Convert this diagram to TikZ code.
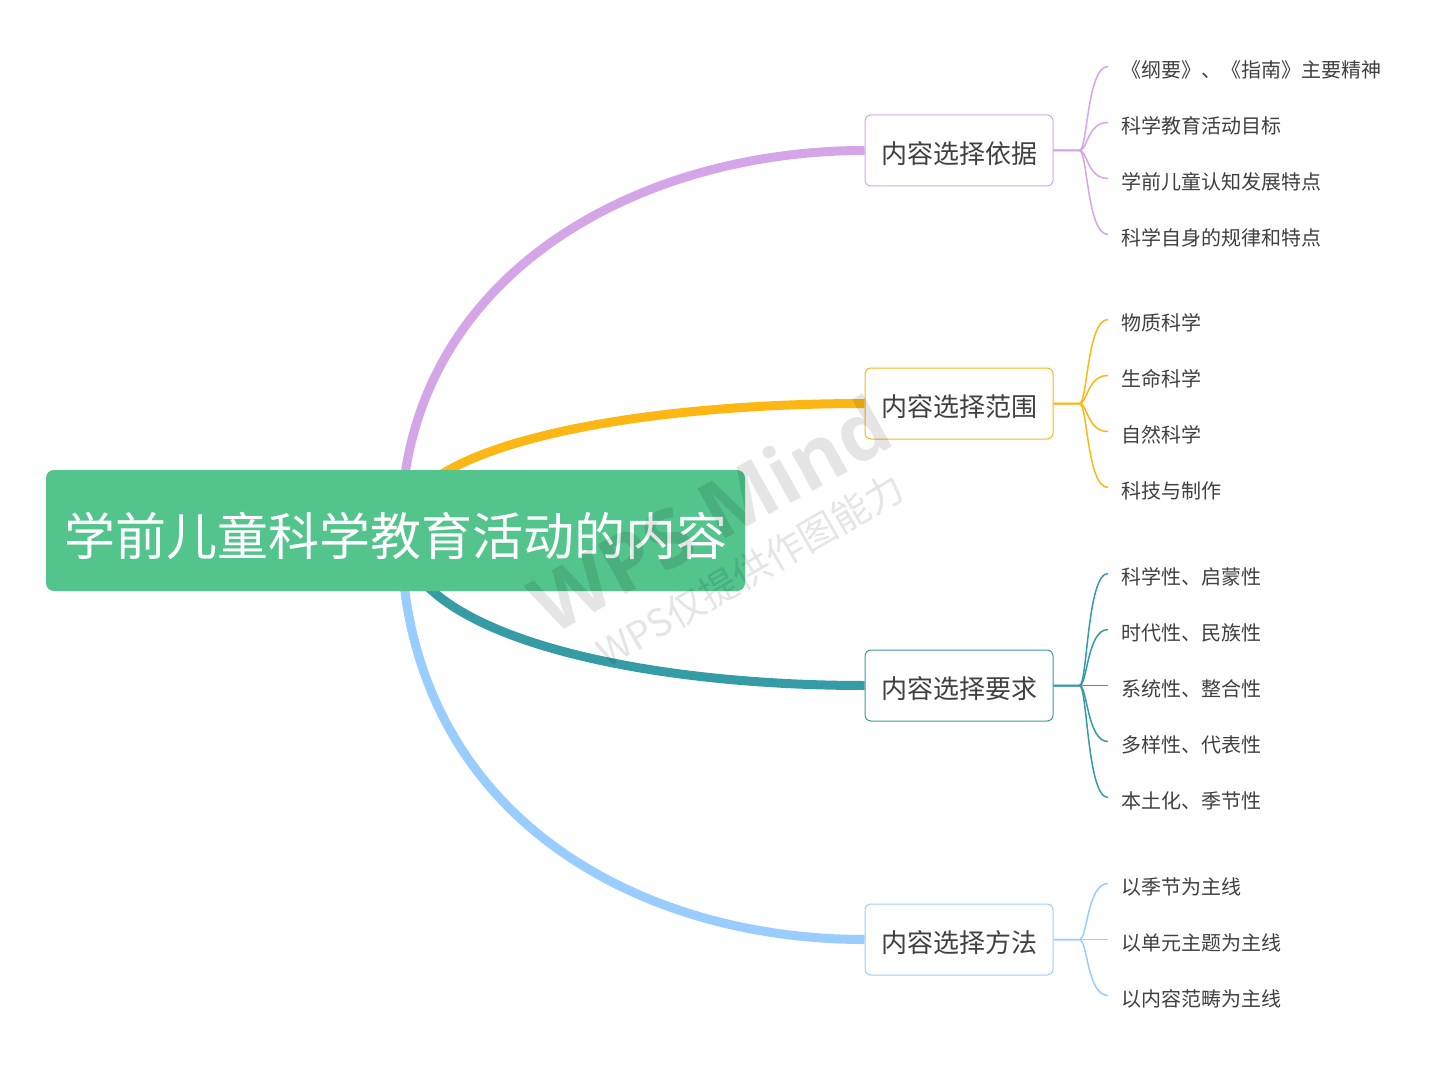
\documentclass[tikz,border=0pt]{standalone}
\usepackage{fontspec}
\setmainfont{Noto Sans CJK SC}
\newfontfamily\wmfont{Open Sans}
\usetikzlibrary{calc,backgrounds}
\definecolor{cgreen}{HTML}{52C48C}
\definecolor{cpurple}{HTML}{D4A6E8}
\definecolor{corange}{HTML}{FDB715}
\definecolor{cteal}{HTML}{359CA6}
\definecolor{cblue}{HTML}{9ACDFF}
\definecolor{ctext}{HTML}{404040}
\newcommand\lowertxt[2]{\raisebox{-#1pt}[\height][\depth]{#2}}
\tikzset{
  rootbox/.style={fill=cgreen, rounded corners=8pt, minimum width=699pt, minimum height=121pt,
    inner sep=0pt, text=white, font=\fontsize{51}{51}\selectfont},
  branchbox/.style={draw=#1, line width=1pt, fill=white, rounded corners=6pt,
    minimum width=188pt, minimum height=71pt, inner sep=0pt, text=ctext,
    font=\fontsize{26}{26}\selectfont},
  leaf/.style={anchor=west, inner xsep=13pt, inner ysep=0pt, text=ctext,
    font=\fontsize{20}{20}\selectfont},
  trunk/.style={draw=#1, line width=9pt},
  twig/.style={draw=#1, line width=1.5pt},
  wmark/.style={text=black, opacity=0.1, rotate=29}
}
\begin{document}
\begin{tikzpicture}[x=1pt,y=-1pt]
\useasboundingbox (0,0) rectangle (1448,1067);

\node[rootbox] (root) at (395.5,530.5) {\lowertxt{5}{学前儿童科学教育活动的内容}};
\coordinate (rc) at (401,530);

\node[branchbox=cpurple] (b1) at (959,150.5) {\lowertxt{3}{内容选择依据}};
\node[branchbox=corange] (b2) at (959,403.5) {\lowertxt{3}{内容选择范围}};
\node[branchbox=cteal]   (b3) at (959,685.5) {\lowertxt{3}{内容选择要求}};
\node[branchbox=cblue]   (b4) at (959,939.5) {\lowertxt{3}{内容选择方法}};

\begin{scope}[on background layer]
\fill[white] (0,0) rectangle (1448,1067);
\draw[trunk=cpurple] (rc) .. controls ($(rc)+(0,-250)$) and ($(b1.west)+(-233,0)$) .. (b1.west);
\draw[trunk=corange] (rc) .. controls ($(rc)+(0,-84)$) and ($(b2.west)+(-233,0)$) .. (b2.west);
\draw[trunk=cteal]   (rc) .. controls ($(rc)+(0,103)$) and ($(b3.west)+(-233,0)$) .. (b3.west);
\draw[trunk=cblue]   (rc) .. controls ($(rc)+(0,280)$) and ($(b4.west)+(-233,0)$) .. (b4.west);
\end{scope}

% leaves
\node[leaf] (l11) at (1108,66.5) {\lowertxt{3}{《纲要》、《指南》主要精神}};
\node[leaf] (l12) at (1108,122.5) {\lowertxt{3}{科学教育活动目标}};
\node[leaf] (l13) at (1108,178.5) {\lowertxt{3}{学前儿童认知发展特点}};
\node[leaf] (l14) at (1108,234.5) {\lowertxt{3}{科学自身的规律和特点}};

\node[leaf] (l21) at (1108,319.5) {\lowertxt{3}{物质科学}};
\node[leaf] (l22) at (1108,375.5) {\lowertxt{3}{生命科学}};
\node[leaf] (l23) at (1108,431.5) {\lowertxt{3}{自然科学}};
\node[leaf] (l24) at (1108,487.5) {\lowertxt{3}{科技与制作}};

\node[leaf] (l31) at (1108,573.5) {\lowertxt{3}{科学性、启蒙性}};
\node[leaf] (l32) at (1108,629.5) {\lowertxt{3}{时代性、民族性}};
\node[leaf] (l33) at (1108,685.5) {\lowertxt{3}{系统性、整合性}};
\node[leaf] (l34) at (1108,741.5) {\lowertxt{3}{多样性、代表性}};
\node[leaf] (l35) at (1108,797.5) {\lowertxt{3}{本土化、季节性}};

\node[leaf] (l41) at (1108,883.5) {\lowertxt{3}{以季节为主线}};
\node[leaf] (l42) at (1108,939.5) {\lowertxt{3}{以单元主题为主线}};
\node[leaf] (l43) at (1108,995.5) {\lowertxt{3}{以内容范畴为主线}};

\coordinate (f1) at ($(b1.east)+(26,0)$);
\coordinate (f2) at ($(b2.east)+(26,0)$);
\coordinate (f3) at ($(b3.east)+(26,0)$);
\coordinate (f4) at ($(b4.east)+(26,0)$);

\foreach \l in {l11,l12,l13,l14}
  \draw[twig=cpurple] (b1.east) -- (f1) .. controls ($(f1)+(8,0)$) and ($(\l.west)+(-21,0)$) .. (\l.west);
\foreach \l in {l21,l22,l23,l24}
  \draw[twig=corange] (b2.east) -- (f2) .. controls ($(f2)+(8,0)$) and ($(\l.west)+(-21,0)$) .. (\l.west);
\foreach \l in {l31,l32,l33,l34,l35}
  \draw[twig=cteal] (b3.east) -- (f3) .. controls ($(f3)+(8,0)$) and ($(\l.west)+(-21,0)$) .. (\l.west);
\foreach \l in {l41,l42,l43}
  \draw[twig=cblue] (b4.east) -- (f4) .. controls ($(f4)+(8,0)$) and ($(\l.west)+(-21,0)$) .. (\l.west);

% watermark
\node[wmark, font=\wmfont\bfseries\fontsize{80}{80}\selectfont] (wm1) at (710,514) {WPS Mind};
\node[wmark, font=\fontsize{38}{38}\selectfont, rotate=1] (wm2) at (750,570) {WPS仅提供作图能力};
\end{tikzpicture}
\end{document}
